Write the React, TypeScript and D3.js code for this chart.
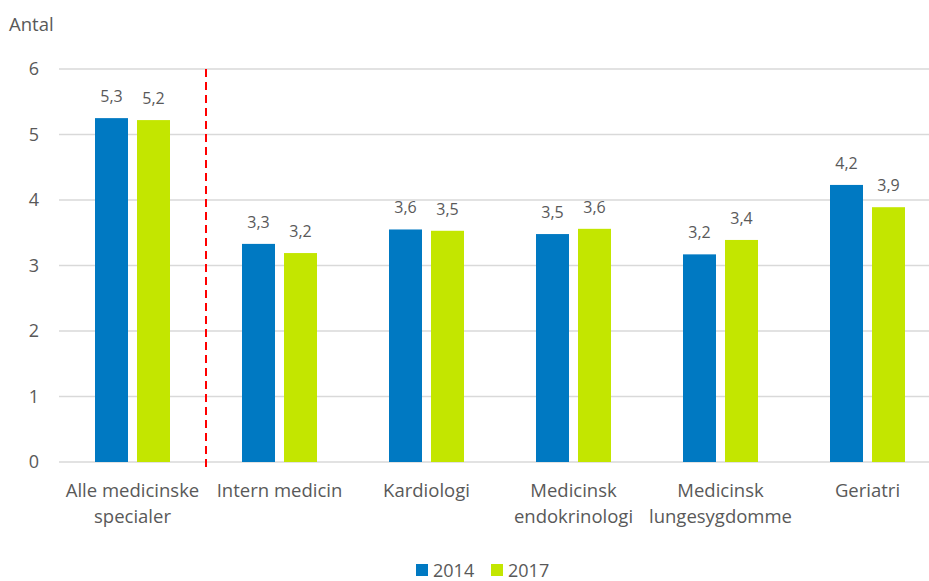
import React from "react";
import * as d3 from "d3";

const categories = [
  ["Alle medicinske", "specialer"],
  ["Intern medicin"],
  ["Kardiologi"],
  ["Medicinsk", "endokrinologi"],
  ["Medicinsk", "lungesygdomme"],
  ["Geriatri"],
];
const seriesNames = ["2014", "2017"];
const values2014 = [5.25, 3.33, 3.55, 3.48, 3.17, 4.23];
const values2017 = [5.22, 3.19, 3.53, 3.56, 3.39, 3.89];
const labels2014 = ["5,3", "3,3", "3,6", "3,5", "3,2", "4,2"];
const labels2017 = ["5,2", "3,2", "3,5", "3,6", "3,4", "3,9"];
const yTicks = [0, 1, 2, 3, 4, 5, 6];
const colors = ["#0079C2", "#C3E600"];

export default function App() {
  const W = 929, H = 581;
  const left = 59, right = 941, top = 69, bottom = 462;
  const font = "Open Sans, Liberation Sans, sans-serif";
  const text = "#595959";
  const x0 = d3.scaleBand<number>().domain(d3.range(categories.length)).range([left, right]).paddingInner(0).paddingOuter(0);
  const y = d3.scaleLinear().domain([0, 6]).range([bottom, top]);
  const barW = 33, gap = 9;
  const x1 = d3.scaleBand<number>().domain([0, 1]).range([-(barW + gap / 2), barW + gap / 2]).paddingInner(gap / (barW + gap)).paddingOuter(0);
  const series = [values2014, values2017];
  const labs = [labels2014, labels2017];
  const sep = x0(1)!;
  return (
    <svg width={W} height={H} style={{ position: "absolute", left: 0, top: 0, background: "#fff" }} fontFamily={font}>
      <text x={9} y={31} fontSize={18.5} fill={text}>Antal</text>
      {yTicks.map((t) => (
        <g key={t}>
          <line x1={left} x2={W} y1={y(t)} y2={y(t)} stroke="#d9d9d9" strokeWidth={1.5} />
          <text x={39} y={y(t)} dy="0.36em" textAnchor="end" fontSize={18} fill={text}>{t}</text>
        </g>
      ))}
      {series.map((vals, s) =>
        vals.map((v, i) => {
          const cx = x0(i)! + x0.bandwidth() / 2;
          const bx = cx + x1(s)!;
          return (
            <g key={`${s}-${i}`}>
              <rect x={bx} y={y(v)} width={x1.bandwidth()} height={bottom - y(v)} fill={colors[s]} />
              <text x={bx + x1.bandwidth() / 2} y={y(v) - 16} textAnchor="middle" fontSize={16} fill={text}>{labs[s][i]}</text>
            </g>
          );
        })
      )}
      <line x1={sep} x2={sep} y1={top} y2={bottom + 5} stroke="#ff0000" strokeWidth={2} strokeDasharray="8,5" />
      {categories.map((lines, i) => {
        const cx = x0(i)! + x0.bandwidth() / 2;
        return (
          <text key={i} x={cx} textAnchor="middle" fontSize={18.5} fill={text}>
            {lines.map((l, j) => (
              <tspan key={j} x={cx} y={497 + j * 26}>{l}</tspan>
            ))}
          </text>
        );
      })}
      {seriesNames.map((n, s) => (
        <g key={n} transform={`translate(${416 + s * 75},564)`}>
          <rect x={0} y={0} width={12} height={12} fill={colors[s]} />
          <text x={17} y={12.5} fontSize={18} fill={text}>{n}</text>
        </g>
      ))}
    </svg>
  );
}
